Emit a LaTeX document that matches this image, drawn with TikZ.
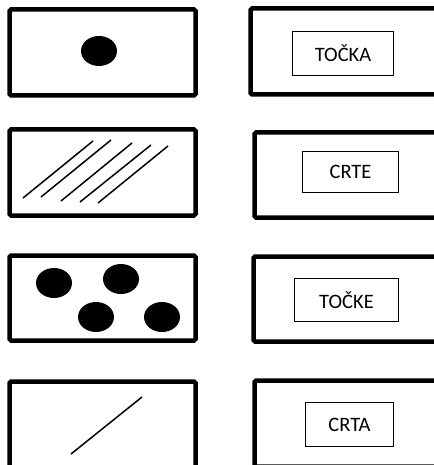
\documentclass[tikz,border=0pt]{standalone}
\usepackage{fontspec}
\setmainfont{Carlito}
\usepackage{tikz}
\usetikzlibrary{positioning}
\tikzset{
    panel/.style={rectangle, draw, line width=4.5pt, rounded corners=1.5pt, inner sep=0pt},
    openpanel/.style={line width=4.5pt, rounded corners=1.5pt},
    namebox/.style={rectangle, draw, line width=1.3pt, inner sep=0pt, font=\fontsize{20.5}{24}\selectfont},
    dot/.style={fill=black},
    stroke/.style={line width=1.5pt}
}
\begin{document}
\begin{tikzpicture}[x=1pt, y=-1pt]
\useasboundingbox (0,0) rectangle (433,465);
% left column: pictures
\node[panel, minimum width=186pt, minimum height=86pt] (pic1) at (102.5,52.5) {};
\node[panel, minimum width=186pt, minimum height=86pt] (pic2) at (102.5,172.5) {};
\node[panel, minimum width=186pt, minimum height=85pt] (pic3) at (102.5,298) {};
\draw[openpanel] (9.5,475) |- (195.5,381.5) -- (195.5,475);
% right column: names, running off the page
\draw[openpanel] (440,8.5) -| (250.5,94.5) -- (440,94.5);
\draw[openpanel] (440,132.5) -| (254.5,217.5) -- (440,217.5);
\draw[openpanel] (440,256.5) -| (253.5,341.5) -- (440,341.5);
\draw[openpanel] (440,380.5) -| (254.5,466.5) -- (440,466.5);
\node[namebox, minimum width=101pt, minimum height=44pt] (word1) at (343,53.5) {TOČKA};
\node[namebox, minimum width=96pt, minimum height=41pt] (word2) at (350.5,172) {CRTE};
\node[namebox, minimum width=104pt, minimum height=43pt] (word3) at (346.5,300) {TOČKE};
\node[namebox, minimum width=88pt, minimum height=44pt] (word4) at (349.5,424.5) {CRTA};
% dots
\fill[dot] (99,51) ellipse [x radius=18pt, y radius=15pt];
\foreach \px/\py in {54/283, 121/279, 96/317, 162/317}
    \fill[dot] (\px,\py) ellipse [x radius=18pt, y radius=15pt];
% lines
\draw[stroke] (23,198) -- (93,141);
\draw[stroke] (41,197) -- (111,140);
\draw[stroke] (61,201) -- (132,143);
\draw[stroke] (80,202) -- (151,145);
\draw[stroke] (98,203) -- (168,146);
\draw[stroke] (71,454) -- (142,397);
\end{tikzpicture}
\end{document}
